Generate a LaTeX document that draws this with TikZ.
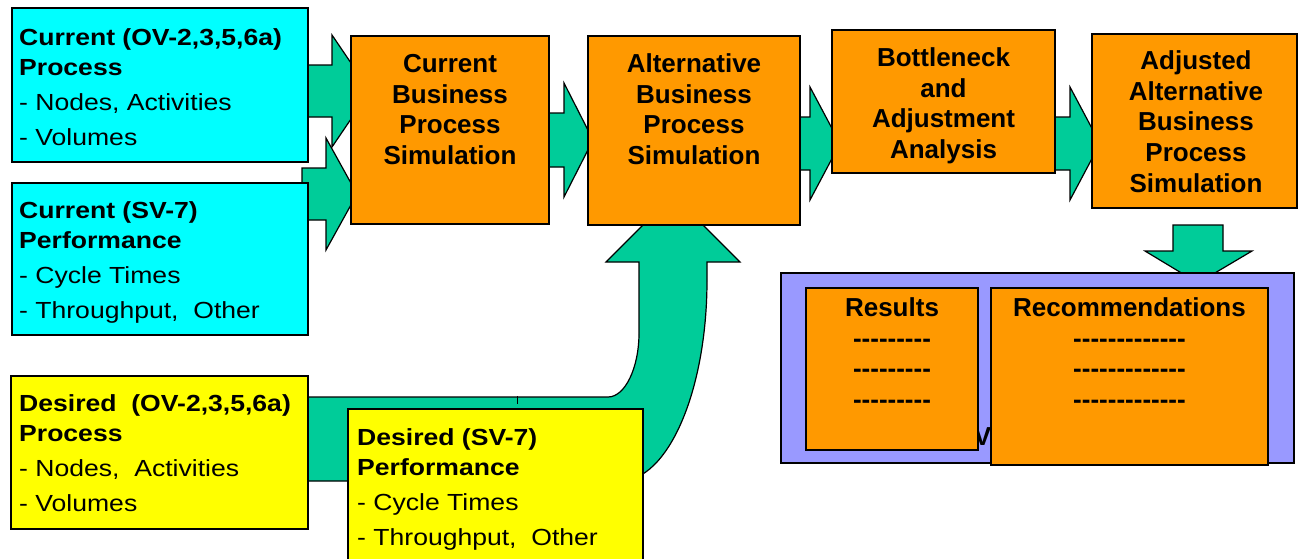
\documentclass[tikz,border=0pt]{standalone}
\usepackage{fontspec}
\setmainfont{Liberation Sans}
\newfontfamily\sidefont{Liberation Sans}[FakeStretch=1.14]
\definecolor{cyanbox}{HTML}{00FFFF}
\definecolor{orangebox}{HTML}{FF9900}
\definecolor{arrowgreen}{HTML}{00CC99}
\definecolor{yellowbox}{HTML}{FFFF00}
\definecolor{purplebox}{HTML}{9999FF}
\tikzset{
  blockarrow/.style={fill=arrowgreen, draw=black, line width=1.2pt, line join=miter},
  boxbase/.style={draw=black, line width=1.3pt, rectangle, inner sep=0pt},
  cbox/.style={boxbase, fill=cyanbox},
  ybox/.style={boxbase, fill=yellowbox},
  obox/.style={boxbase, fill=orangebox},
  pbox/.style={boxbase, fill=purplebox},
  sidetext/.style={font=\sidefont\fontsize{23.3}{30}\selectfont, align=left, anchor=base west, inner sep=0pt},
  otext/.style={font=\fontsize{26}{30.7}\selectfont\bfseries, align=center, anchor=base, inner sep=0pt},
}
\newcommand\dashnine{-{}-{}-{}-{}-{}-{}-{}-{}-}
\newcommand\dashthirteen{-{}-{}-{}-{}-{}-{}-{}-{}-{}-{}-{}-{}-}
\begin{document}
\begin{tikzpicture}[x=1pt,y=-1pt]
\useasboundingbox (0,0) rectangle (1300,558);
\clip (0,0) rectangle (1300,558);
% U-turn arrow from desired inputs to alternative simulation
\path[blockarrow] (300,397) -- (608,397) .. controls (625,397) and (639,368) .. (639,333)
  -- (639,262) -- (606,262) -- (673,195) -- (740,262) -- (707,262) -- (707,280)
  .. controls (707,391) and (668,481) .. (620,481) -- (300,481) -- cycle;
\draw[line width=1pt] (517,396) -- (517,404);
% arrows into current simulation
\path[blockarrow] (300,65) -- (332,65) -- (332,35) -- (370,91) -- (332,147) -- (332,117) -- (300,117) -- cycle;
\path[blockarrow] (302,168) -- (326,168) -- (326,138) -- (357,194) -- (326,250) -- (326,220) -- (302,220) -- cycle;
% arrows along the top row
\path[blockarrow] (540,113) -- (564,113) -- (564,83) -- (593,140) -- (564,197) -- (564,167) -- (540,167) -- cycle;
\path[blockarrow] (790,117) -- (810,117) -- (810,87) -- (840,143.5) -- (810,200) -- (810,170) -- (790,170) -- cycle;
\path[blockarrow] (1045,117) -- (1070,117) -- (1070,87) -- (1100,143.5) -- (1070,200) -- (1070,170) -- (1045,170) -- cycle;
% down arrow
\path[blockarrow] (1173,225) -- (1223,225) -- (1223,251) -- (1252,251) -- (1198,283) -- (1145,251) -- (1173,251) -- cycle;
% cyan input boxes
\node[cbox, minimum width=296pt, minimum height=154pt] (curproc) at (160,85) {};
\node[cbox, minimum width=296pt, minimum height=152pt] (curperf) at (160,259) {};
% orange process boxes
\node[obox, minimum width=198pt, minimum height=188pt] (cursim) at (450,130) {};
\node[obox, minimum width=212pt, minimum height=189pt] (altsim) at (694,130.5) {};
\node[obox, minimum width=223pt, minimum height=143pt] (bottle) at (943.5,101.5) {};
\node[obox, minimum width=205pt, minimum height=174pt] (adjsim) at (1194.5,121) {};
% yellow desired boxes
\node[ybox, minimum width=297pt, minimum height=153pt] (desproc) at (159.5,452.5) {};
\node[ybox, minimum width=295pt, minimum height=166pt] (desperf) at (495.5,492) {};
% output panel
\node[pbox, minimum width=513pt, minimum height=190pt] (panel) at (1037.5,368) {};
\node[font=\fontsize{26}{30}\selectfont\bfseries, anchor=base, inner sep=0pt] (hidden) at (982.5,445) {V};
\node[obox, minimum width=172pt, minimum height=162pt] (results) at (892,369) {};
\node[obox, minimum width=277pt, minimum height=177pt] (recs) at (1129.5,376.5) {};
% texts (anchored at the baseline of their last line)
\node[sidetext] (curprocT) at (19,145) {\textbf{Current (OV-2,3,5,6a)}\\\textbf{Process}\\[5pt]- Nodes, Activities\\[5pt]- Volumes};
\node[sidetext] (curperfT) at (19,318) {\textbf{Current (SV-7)}\\\textbf{Performance}\\[5pt]- Cycle Times\\[5pt]- Throughput,~ Other};
\node[sidetext] (desprocT) at (19,511.7) {\textbf{Desired~ (OV-2,3,5,6a)}\\\textbf{Process}\\[5pt]- Nodes,~ Activities\\[5pt]- Volumes};
\node[sidetext] (desperfT) at (357,545) {\textbf{Desired (SV-7)}\\\textbf{Performance}\\[5pt]- Cycle Times\\[5pt]- Throughput,~ Other};
\node[otext] (cursimT) at (450,164.4) {Current\\Business\\Process\\Simulation};
\node[otext] (altsimT) at (694,164.4) {Alternative\\Business\\Process\\Simulation};
\node[otext] (bottleT) at (943.5,158.4) {Bottleneck\\and\\Adjustment\\Analysis};
\node[otext] (adjsimT) at (1196,192.1) {Adjusted\\Alternative\\Business\\Process\\Simulation};
\node[otext] (resultsT) at (892,408.4) {Results\\\dashnine\\\dashnine\\\dashnine};
\node[otext] (recsT) at (1129.5,408.4) {Recommendations\\\dashthirteen\\\dashthirteen\\\dashthirteen};
\end{tikzpicture}
\end{document}
